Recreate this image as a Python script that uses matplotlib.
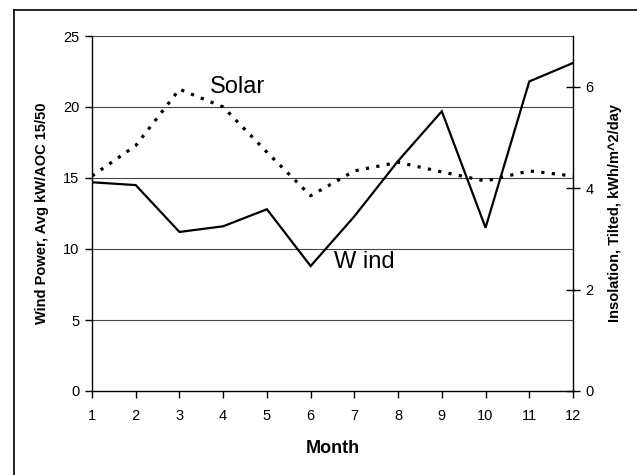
import matplotlib.pyplot as plt
from matplotlib.lines import Line2D

plt.rcParams['font.family'] = ['Liberation Sans', 'DejaVu Sans']

months = list(range(1, 13))
wind = [14.7, 14.5, 11.2, 11.6, 12.8, 8.8, 12.3, 16.2, 19.7, 11.5, 21.8, 23.1]
solar = [4.24, 4.84, 5.95, 5.60, 4.71, 3.85, 4.34, 4.51, 4.32, 4.14, 4.34, 4.24]
left_ticks = [0, 5, 10, 15, 20, 25]
right_ticks = [0, 2, 4, 6]

fig = plt.figure(figsize=(6.37, 4.75), dpi=100)
ax = fig.add_axes([92 / 637, 1 - 391 / 475, (573 - 92) / 637, (391 - 36) / 475])
ax2 = ax.twinx()

# outer chart-area border (only top and left edges show)
fig.add_artist(Line2D([14 / 637, 14 / 637], [-0.1, 1 - 10 / 475], color='black', lw=1.2))
fig.add_artist(Line2D([14 / 637, 1.1], [1 - 10 / 475, 1 - 10 / 475], color='black', lw=1.2))

for v in left_ticks[1:]:
    ax.axhline(v, color='#444444', lw=0.8, zorder=0)

ax.plot(months, wind, color='black', lw=1.6, solid_joinstyle='miter', zorder=3)
ax2.plot(months, solar, color='black', lw=2.3, linestyle=(0, (1, 2.3)), zorder=3)

ax.set_xlim(1, 12)
ax.set_ylim(0, 25)
ax2.set_ylim(0, 7)
ax.set_xticks(months)
ax.set_yticks(left_ticks)
ax2.set_yticks(right_ticks)

for a in (ax, ax2):
    a.spines['top'].set_visible(False)
ax.spines['right'].set_visible(False)
ax2.spines['left'].set_visible(False)
ax2.spines['bottom'].set_visible(False)
for s in ('left', 'bottom'):
    ax.spines[s].set_linewidth(1.0)
ax2.spines['right'].set_linewidth(1.0)

ax.tick_params(axis='both', direction='out', length=5, width=1.0, labelsize=10.5, pad=4)
ax.tick_params(axis='x', pad=8)
ax2.tick_params(axis='y', direction='inout', length=10, width=1.0, labelsize=10.5, pad=4)

ax.set_xlabel('Month', fontsize=13, fontweight='bold', labelpad=12)
ax.set_ylabel('Wind Power, Avg kW/AOC 15/50', fontsize=10.5, fontweight='bold', labelpad=10)
ax2.set_ylabel('Insolation, Tilted, kWh/m^2/day', fontsize=10.5, fontweight='bold', labelpad=10)

ax.text(3.7, 21.4, 'Solar', fontsize=17, va='center', ha='left')
ax.text(6.54, 9.1, 'W ind', fontsize=17, va='center', ha='left')

fig.savefig('out.png', dpi=100)
